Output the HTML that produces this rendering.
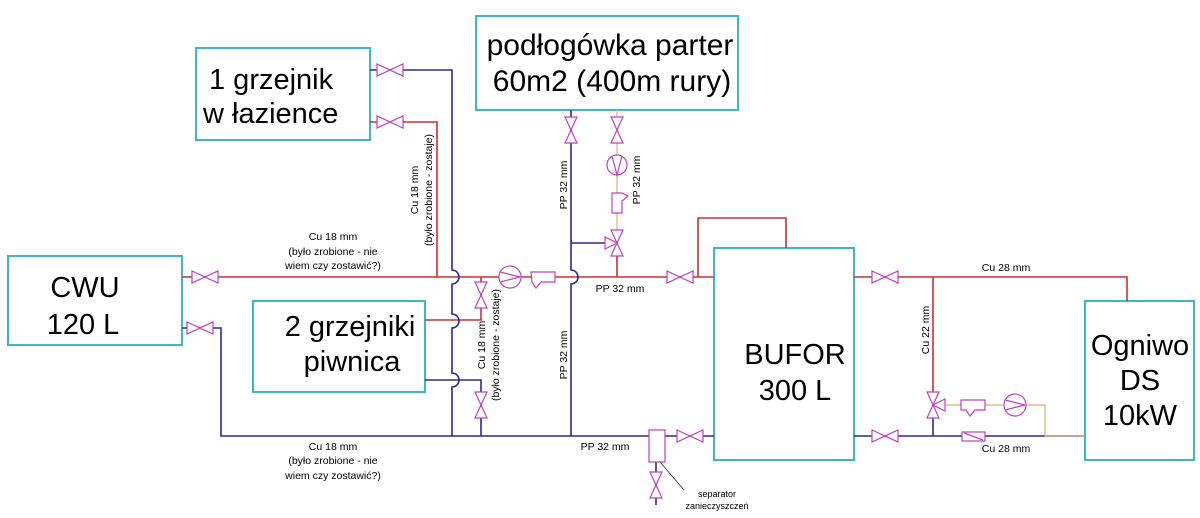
<!DOCTYPE html>
<html><head><meta charset="utf-8"><style>
html,body{margin:0;padding:0;background:#fff;}
svg{display:block;}
text{font-family:"Liberation Sans",sans-serif;fill:#000;}
.s{font-size:10.5px;}
.b{font-size:29px;}
</style></head><body>
<svg width="1200" height="518" viewBox="0 0 1200 518" xmlns="http://www.w3.org/2000/svg">
<defs>
<g id="vh"><path d="M-13,-6 L13,6 L13,-6 L-13,6 Z" fill="#fff" stroke="#c040c0" stroke-width="1.2"/></g>
<g id="vv"><path d="M-6,-13 L6,13 L-6,13 L6,-13 Z" fill="#fff" stroke="#c040c0" stroke-width="1.2"/></g>
</defs>
<g fill="none" stroke-width="1.6">
<g stroke="#3bb8c8" stroke-width="2">
<rect x="8" y="256" width="174" height="89"/>
<rect x="196" y="48" width="174" height="92"/>
<rect x="476" y="16" width="262" height="94"/>
<rect x="253" y="301" width="172" height="91"/>
<rect x="714" y="248" width="140" height="212"/>
<rect x="1085" y="301" width="109" height="159"/>
</g>
<g stroke="#c83030">
<path d="M182,277 H714"/>
<path d="M370,122 H437 V277"/>
<path d="M425,320 H481 V277"/>
<path d="M617,250 V277"/>
<path d="M698,277 V218 H786 V248"/>
<path d="M854,277 H1127 V301"/>
<path d="M933,277 V400"/>
</g>
<g stroke="#2a2a90">
<path d="M370,70 H452 V270 A7,7 0 0 1 452,284 V314 A7,7 0 0 1 452,328 V373 A7,7 0 0 1 452,387 V436"/>
<path d="M182,328 H221 V436 H714"/>
<path d="M425,380 H481 V436"/>
<path d="M571,110 V270 A7,7 0 0 1 571,284 V436"/>
<path d="M571,243 H612"/>
<path d="M854,436 H1085"/>
<path d="M933,410 V436"/>
</g>
<g stroke="#e0b070" stroke-width="1.2">
<path d="M617,110 V236"/>
<path d="M940,405 H1045 V436 H1085"/>
</g>
<path d="M656,462 V505" stroke="#2a2a90"/>
</g>
<use href="#vh" x="205" y="277"/>
<use href="#vh" x="200" y="328"/>
<use href="#vh" x="390" y="70"/>
<use href="#vh" x="390" y="122"/>
<use href="#vh" x="680" y="277"/>
<use href="#vh" x="690" y="436"/>
<use href="#vh" x="885" y="277"/>
<use href="#vh" x="885" y="436"/>
<use href="#vv" x="481" y="295"/>
<use href="#vv" x="481" y="405"/>
<use href="#vv" x="571" y="130"/>
<use href="#vv" x="617" y="130"/>
<use href="#vv" x="656" y="485"/>
<g fill="#fff" stroke="#c040c0" stroke-width="1.2">
<path d="M611,230 L623,256 L611,256 L623,230 Z"/><path d="M617,243 L605,237 L605,249 Z"/>
<path d="M927,392 L939,418 L927,418 L939,392 Z"/><path d="M933,405 L945,399 L945,411 Z"/>
<circle cx="510" cy="277" r="11"/><path d="M500,272 L520,277 L500,282"/>
<circle cx="617" cy="165" r="10"/><path d="M612,156 L617,175 L622,156"/>
<circle cx="1015" cy="405" r="11"/><path d="M1005,400 L1025,405 L1005,410"/>
<path d="M531,272 H555 V282 H541 L536,288 L532,282 Z"/>
<path d="M612,193 V213 H622 V201 L628,196 L622,193 Z"/>
<path d="M961,400 H985 V410 H975 L970,416 L966,410 H961 Z"/>
<rect x="962" y="432" width="23" height="9"/><path d="M964,433 L983,440"/>
<rect x="649" y="430" width="16" height="32"/>
</g>
<path d="M660,462 L684,490" stroke="#333" stroke-width="0.8"/>
<text class="b" x="85" y="297" text-anchor="middle">CWU</text>
<text class="b" x="83" y="334" text-anchor="middle">120 L</text>
<text class="b" x="209" y="89">1 grzejnik</text>
<text class="b" x="203" y="123">w łazience</text>
<text class="b" x="610" y="55" text-anchor="middle" style="font-size:30px">podłogówka parter</text>
<text class="b" x="612" y="91" text-anchor="middle" style="font-size:30px">60m2 (400m rury)</text>
<text class="b" x="350" y="336" text-anchor="middle">2 grzejniki</text>
<text class="b" x="352" y="371" text-anchor="middle">piwnica</text>
<text class="b" x="795" y="364" text-anchor="middle">BUFOR</text>
<text class="b" x="795" y="400" text-anchor="middle">300 L</text>
<text class="b" x="1140" y="355" text-anchor="middle">Ogniwo</text>
<text class="b" x="1140" y="390" text-anchor="middle">DS</text>
<text class="b" x="1140" y="425" text-anchor="middle">10kW</text>
<g class="s" text-anchor="middle">
<text x="333" y="240">Cu 18 mm</text>
<text x="333" y="255">(było zrobione - nie</text>
<text x="333" y="269">wiem czy zostawić?)</text>
<text x="333" y="450">Cu 18 mm</text>
<text x="333" y="464">(było zrobione - nie</text>
<text x="333" y="479">wiem czy zostawić?)</text>
<text transform="translate(418,190) rotate(-90)">Cu 18 mm</text>
<text transform="translate(432,190) rotate(-90)">(było zrobione - zostaje)</text>
<text transform="translate(485,345) rotate(-90)">Cu 18 mm</text>
<text transform="translate(499,345) rotate(-90)">(było zrobione - zostaje)</text>
<text transform="translate(567,185) rotate(-90)">PP 32 mm</text>
<text transform="translate(567,355) rotate(-90)">PP 32 mm</text>
<text transform="translate(640,180) rotate(-90)">PP 32 mm</text>
<text transform="translate(929,330) rotate(-90)">Cu 22 mm</text>
<text x="620" y="292">PP 32 mm</text>
<text x="605" y="450">PP 32 mm</text>
<text x="1006" y="271">Cu 28 mm</text>
<text x="1006" y="452">Cu 28 mm</text>
<text x="717" y="497" style="font-size:9px">separator</text>
<text x="717" y="509" style="font-size:9px">zanieczyszczeń</text>
</g>
</svg>
</body></html>
